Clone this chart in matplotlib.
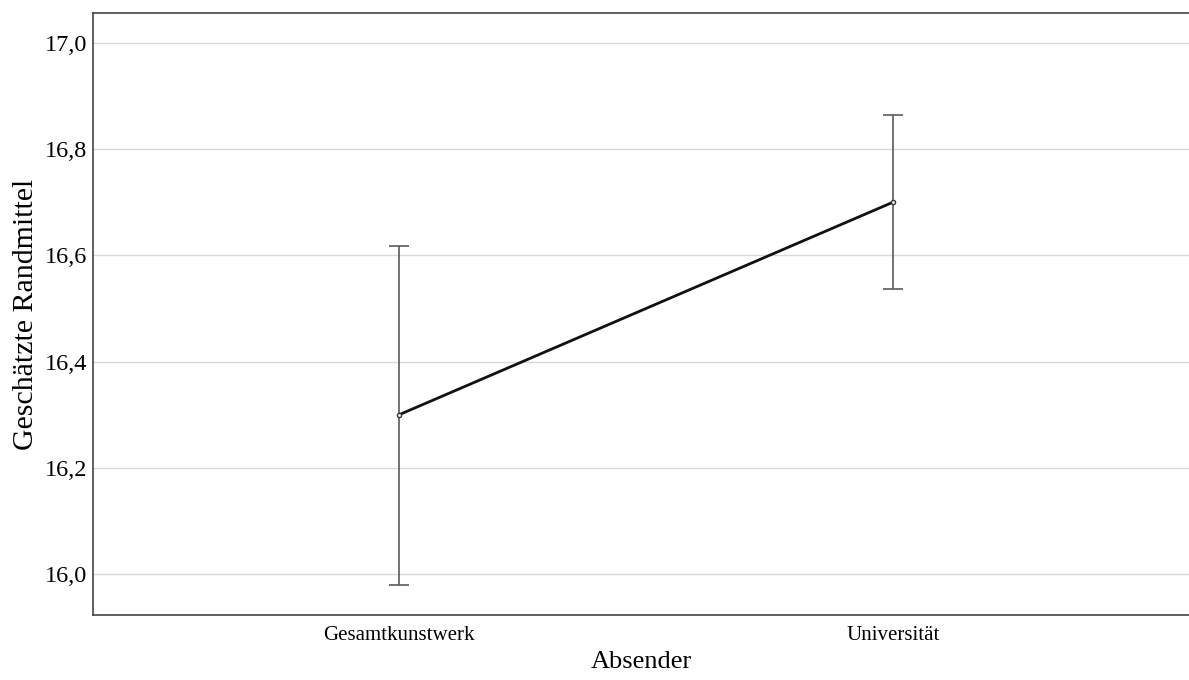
import numpy as np
import matplotlib.pyplot as plt

plt.rcParams['font.family'] = ['Liberation Serif', 'DejaVu Serif']

# data
categories = ['Gesamtkunstwerk', 'Universität']
means = [16.30, 16.70]
ci_low = [15.98, 16.537]
ci_high = [16.618, 16.865]
yticks = [16.0, 16.2, 16.4, 16.6, 16.8, 17.0]

x = np.arange(len(categories))
means = np.array(means)
err = [means - np.array(ci_low), np.array(ci_high) - means]

fig = plt.figure(figsize=(11.89, 6.8), dpi=100)
ax = fig.add_axes([0.0782, 0.0956, 0.9218, 0.885])

ax.errorbar(x, means, yerr=err, fmt='none', ecolor='#5a5a5a',
            elinewidth=1.2, capsize=7.2, capthick=1.2, zorder=3)
ax.plot(x, means, color='#111111', lw=2, marker='o', ms=3,
        mfc='white', mec='#333333', mew=1, zorder=4)

ax.set_xlim(-0.62, 1.6)
ax.set_ylim(15.923, 17.056)
ax.set_xticks(x)
ax.set_xticklabels(categories, fontsize=15)
ax.set_yticks(yticks)
ax.set_yticklabels([f'{v:.1f}'.replace('.', ',') for v in yticks], fontsize=17.5)
ax.tick_params(length=0)
ax.tick_params(axis='y', pad=4)
ax.tick_params(axis='x', pad=8)

ax.yaxis.grid(True, color='#d9d9d9', lw=1)
ax.set_axisbelow(True)
for s in ['left', 'top', 'bottom']:
    ax.spines[s].set_color('#444444')
    ax.spines[s].set_linewidth(1.2)
ax.spines['right'].set_visible(False)

ax.set_xlabel('Absender', fontsize=19, labelpad=4)
ax.set_ylabel('Geschätzte Randmittel', fontsize=21.5, labelpad=4)

fig.savefig('out.png', dpi=100)
